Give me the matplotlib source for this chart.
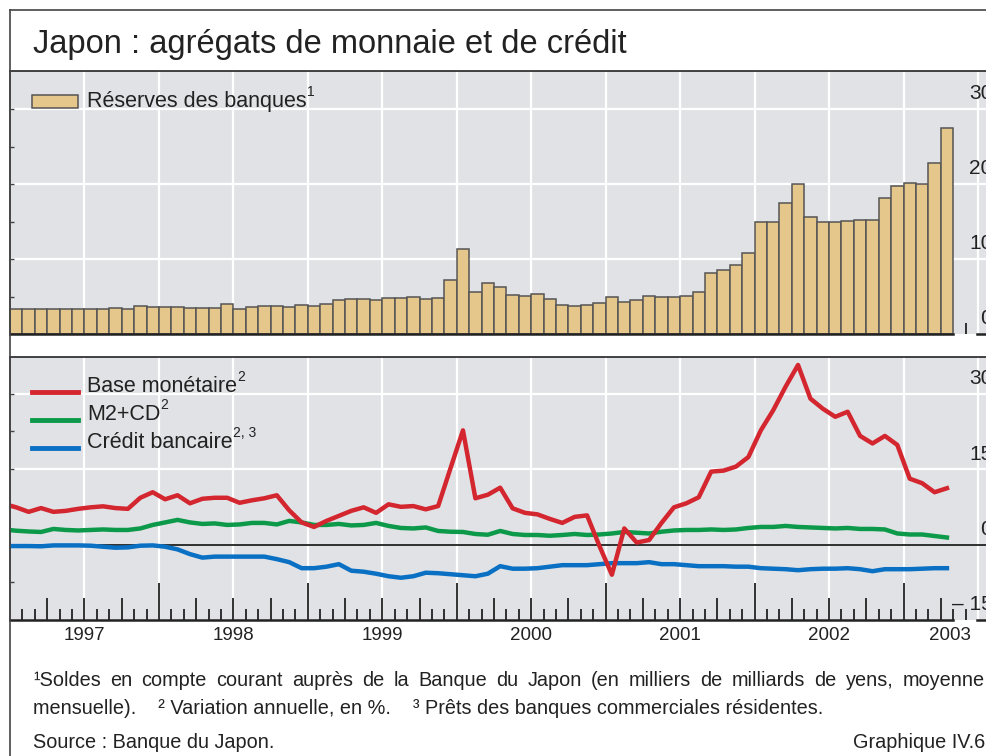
import numpy as np
import matplotlib
matplotlib.use('Agg')
import matplotlib.pyplot as plt
from matplotlib.lines import Line2D
from matplotlib.patches import Rectangle

plt.rcParams['font.family'] = ['Liberation Sans', 'DejaVu Sans']

# bank reserves, monthly Jan 1997 .. Apr 2003 (thousand billion yen)
reserves = [3.4, 3.3, 3.3, 3.4, 3.3, 3.4, 3.4, 3.3, 3.5, 3.4,
            3.7, 3.65, 3.6, 3.65, 3.5, 3.5, 3.5, 4.0, 3.3, 3.65,
            3.8, 3.8, 3.6, 3.9, 3.8, 4.0, 4.5, 4.7, 4.7, 4.6,
            4.75, 4.85, 4.9, 4.7, 4.8, 7.2, 11.4, 5.6, 6.75, 6.3,
            5.2, 5.07, 5.29, 4.71, 3.91, 3.78, 3.82, 4.18, 4.98, 4.22,
            4.49, 5.02, 4.98, 4.98, 5.02, 5.56, 8.09, 8.53, 9.2, 10.8,
            14.98, 14.98, 17.5, 19.96, 15.64, 14.98, 14.89, 15.1, 15.16, 15.2,
            18.09, 19.73, 20.09, 20.04, 22.84, 27.42]

# annual changes in %, monthly Dec 1996 .. Apr 2003
base_mon = [8.1,
            7.4, 6.5, 7.25, 6.5, 6.7, 7.1, 7.4, 7.6, 7.25, 7.1,
            9.3, 10.4, 9.0, 9.8, 8.2, 9.1, 9.3, 9.3, 8.3, 8.8,
            9.2, 9.8, 6.8, 4.4, 3.5, 4.7, 5.7, 6.7, 7.4, 6.3,
            8.0, 7.5, 7.65, 7.0, 7.65, 15.2, 22.7, 9.2, 9.9, 11.3,
            7.2, 6.3, 6.0, 5.1, 4.3, 5.5, 5.8, -0.3, -6.0, 3.2,
            0.4, 0.9, 4.3, 7.4, 8.2, 9.4, 14.5, 14.7, 15.5, 17.4,
            22.7, 26.7, 31.4, 35.7, 29.0, 27.0, 25.4, 26.4, 21.6, 20.1,
            21.6, 19.8, 13.1, 12.2, 10.4, 11.2]
m2cd = [3.0,
        2.75, 2.6, 2.5, 3.1, 2.9, 2.8, 2.9, 3.0, 2.9, 2.9,
        3.2, 3.9, 4.4, 4.9, 4.4, 4.1, 4.2, 3.9, 4.0, 4.3,
        4.3, 4.0, 4.7, 4.4, 3.9, 3.9, 4.1, 3.8, 3.9, 4.3,
        3.7, 3.3, 3.2, 3.4, 2.7, 2.55, 2.5, 2.1, 1.95, 2.7,
        2.1, 1.9, 1.9, 1.75, 1.9, 2.1, 1.9, 2.0, 2.2, 2.5,
        2.35, 2.2, 2.55, 2.8, 2.9, 2.9, 3.0, 2.9, 3.0, 3.3,
        3.5, 3.5, 3.7, 3.5, 3.4, 3.3, 3.2, 3.3, 3.1, 3.1,
        3.0, 2.2, 2.0, 2.0, 1.7, 1.4]
credit = [-0.3,
          -0.3, -0.3, -0.35, -0.17, -0.17, -0.17, -0.23, -0.43, -0.63, -0.56,
          -0.23, -0.17, -0.43, -0.96, -1.9, -2.6, -2.4, -2.4, -2.4, -2.4,
          -2.4, -2.9, -3.5, -4.7, -4.7, -4.4, -3.9, -5.2, -5.4, -5.8,
          -6.3, -6.6, -6.3, -5.6, -5.7, -5.9, -6.1, -6.3, -5.8, -4.3,
          -4.8, -4.8, -4.7, -4.4, -4.1, -4.1, -4.1, -3.9, -3.7, -3.7,
          -3.7, -3.5, -3.9, -3.9, -4.1, -4.3, -4.3, -4.3, -4.4, -4.4,
          -4.7, -4.8, -4.9, -5.1, -4.9, -4.8, -4.8, -4.7, -4.9, -5.3,
          -4.9, -4.9, -4.9, -4.8, -4.7, -4.7]

years = ['1997', '1998', '1999', '2000', '2001', '2002', '2003']
upper_labels = [0, 10, 20, 30]
lower_labels = [-15, 0, 15, 30]

W, H = 987, 756
fig = plt.figure(figsize=(W / 100, H / 100), dpi=100)


def fx(px):
    return px / W


def fy(py):
    return 1 - py / H


x0 = 10.0      # left edge of panels, px
mw = 12.41     # px per month
xmax = (W - x0) / mw
bg = '#e1e2e6'
ink = '#222222'
frame_col = '#444444'
red, green, blue = '#d3262f', '#0c9a4a', '#0a70c4'
note_size = 14.3

ax1 = fig.add_axes([fx(x0), fy(334), 1 - fx(x0), (334 - 71) / H])
ax2 = fig.add_axes([fx(x0), fy(620), 1 - fx(x0), (620 - 357) / H])
ax1.set_ylim(0, 263 / 7.5)
ax2.set_ylim(-15, -15 + 263 / 5.03)

for ax in (ax1, ax2):
    ax.set_xlim(0, xmax)
    ax.set_facecolor(bg)
    ax.set_xticks([])
    for s in ('right', 'bottom'):
        ax.spines[s].set_visible(False)
    ax.spines['top'].set_color(ink)
    ax.spines['top'].set_linewidth(1.2)
    ax.spines['left'].set_color(frame_col)
    ax.spines['left'].set_linewidth(1.2)
    ax.tick_params(axis='y', direction='in', length=3, width=1,
                   color=frame_col, labelleft=False)
    for m in range(6, 80, 6):
        ax.axvline(m, color='white', lw=1.6, zorder=0.5)
    # bottom axis line with the small break on the right
    ax.axhline(ax.get_ylim()[0], xmin=0, xmax=76 / xmax, color=ink,
               lw=1.8, zorder=4, clip_on=False)
    ax.axhline(ax.get_ylim()[0], xmin=(977 - x0) / mw / xmax, xmax=1,
               color=ink, lw=1.8, zorder=4, clip_on=False)

# upper panel: bank reserves
ax1.set_yticks(np.arange(5, 35, 5))
for v in upper_labels[1:]:
    ax1.axhline(v, color='white', lw=1.6, zorder=0.5)
months = np.arange(len(reserves))
ax1.bar(months, reserves, width=1, align='edge', color='#e5c78c',
        edgecolor='#555555', linewidth=1.1, zorder=2)
ax1.vlines(77, 0, 11 / 7.5, color=ink, lw=1.3, zorder=4)
for v in upper_labels:
    ax1.annotate(str(v), xy=(79.15, v), xytext=(0, 4), textcoords='offset points',
                 ha='right', va='bottom', fontsize=15, color=ink,
                 annotation_clip=False)

# lower panel: annual changes
ax2.set_yticks(np.arange(-7.5, 37.5, 7.5))
for v in (15, 30):
    ax2.axhline(v, color='white', lw=1.6, zorder=0.5)
ax2.axhline(0, color=ink, lw=1.3, zorder=2)
xl = np.arange(-1, len(base_mon) - 1) + 0.5
ax2.plot(xl, m2cd, color=green, lw=3.2, zorder=3)
ax2.plot(xl, credit, color=blue, lw=3.2, zorder=3)
ax2.plot(xl, base_mon, color=red, lw=3.2, zorder=3)

for k in range(1, 78):
    if k % 12 == 0:
        ln = 37
    elif k % 3 == 0:
        ln = 22
    else:
        ln = 11
    ax2.vlines(k, -15, -15 + ln / 5.03, color=ink, lw=1.3, zorder=4)

for v in lower_labels:
    lab = '\u2013 15' if v < 0 else str(v)
    ax2.annotate(lab, xy=(79.15, v), xytext=(0, 4), textcoords='offset points',
                 ha='right', va='bottom', fontsize=15, color=ink,
                 annotation_clip=False)

# legends
ax1.add_patch(Rectangle((fx(32), fy(108)), fx(46), 13 / H, transform=fig.transFigure,
                        facecolor='#e5c78c', edgecolor='#555555', lw=1.1,
                        clip_on=False, zorder=5))
t = fig.text(fx(87), fy(102), 'Réserves des banques', fontsize=15.5,
             va='center', color=ink)
ax1.annotate('1', xy=(1.0, 0.62), xycoords=t, fontsize=10, va='bottom',
             color=ink, annotation_clip=False)

entries = [('Base monétaire', '2', red, 392),
           ('M2+CD', '2', green, 420),
           ('Crédit bancaire', '2, 3', blue, 448)]
for name, sup, col, py in entries:
    fig.add_artist(Line2D([fx(32), fx(78)], [fy(py), fy(py)], color=col, lw=3.5,
                          transform=fig.transFigure))
    t = fig.text(fx(87), fy(py - 5), name, fontsize=15.5, va='center', color=ink)
    ax2.annotate(sup, xy=(1.0, 0.62), xycoords=t, fontsize=10, va='bottom',
                 color=ink, annotation_clip=False)

# year labels under the lower panel
for k, y in enumerate(years):
    px = x0 + mw * (6 + 12 * k) if y != '2003' else 950
    fig.text(fx(px), fy(636), y, fontsize=13.5, ha='center', va='center', color=ink)

# frame and title
fig.add_artist(Line2D([fx(10), 1], [fy(10), fy(10)], color=frame_col, lw=1.2,
                      transform=fig.transFigure))
fig.add_artist(Line2D([fx(10), fx(10)], [fy(10), 0], color=frame_col, lw=1.2,
                      transform=fig.transFigure))
fig.text(fx(33), fy(45), 'Japon : agrégats de monnaie et de crédit', fontsize=23.5,
         va='center', color=ink)

# first footnote line is justified between x=33 and x=985
note1 = ('\u00b9Soldes en compte courant auprès de la Banque du Japon '
         '(en milliers de milliards de yens, moyenne')
renderer = fig.canvas.get_renderer()
words = note1.split(' ')
wtexts = [fig.text(0, fy(681), w, fontsize=note_size, va='center', color=ink)
          for w in words]
widths = [tt.get_window_extent(renderer).width for tt in wtexts]
gap = (985 - 33 - sum(widths)) / (len(words) - 1)
xpos = 33.0
for tt, wd in zip(wtexts, widths):
    tt.set_x(fx(xpos))
    xpos += wd + gap

fig.text(fx(33), fy(708), 'mensuelle).    \u00b2 Variation annuelle, en %.    '
         '\u00b3 Prêts des banques commerciales résidentes.', fontsize=note_size,
         va='center', color=ink)
fig.text(fx(33), fy(743), 'Source : Banque du Japon.', fontsize=note_size,
         va='center', color=ink)
fig.text(fx(985), fy(743), 'Graphique IV.6', fontsize=note_size, va='center',
         ha='right', color=ink)

fig.savefig('out.png', dpi=100)
